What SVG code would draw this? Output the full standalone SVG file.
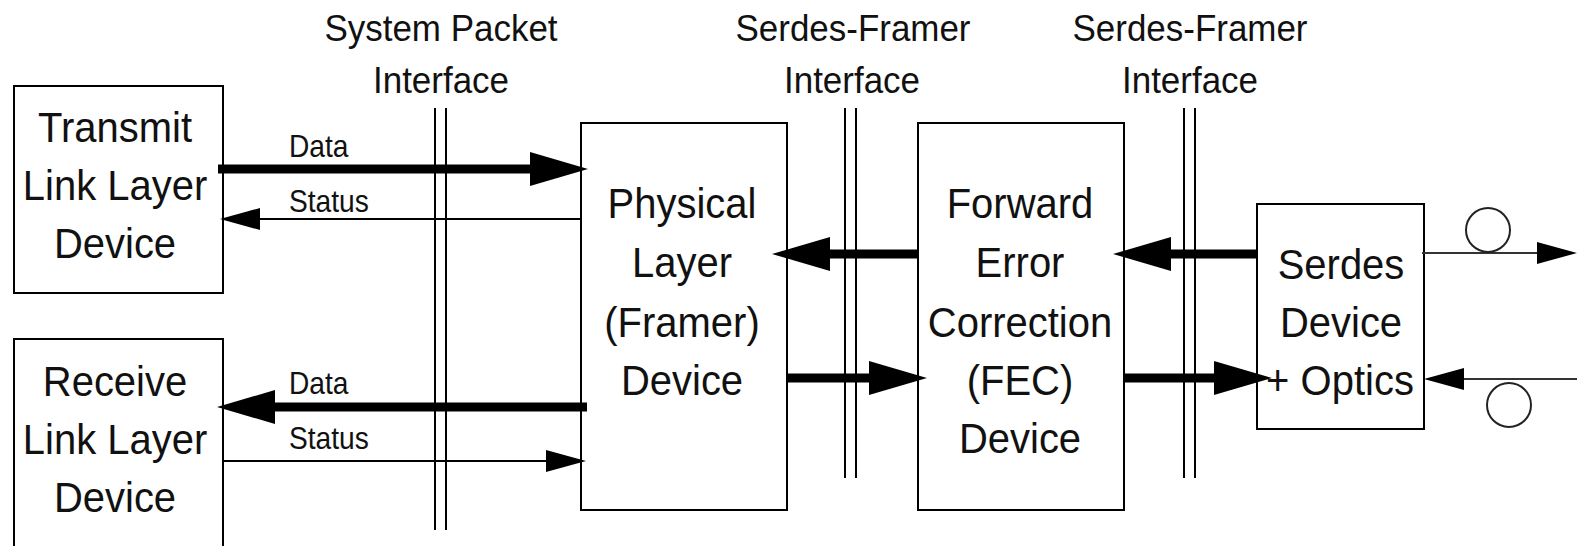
<svg xmlns="http://www.w3.org/2000/svg" width="1577" height="546" viewBox="0 0 1577 546">
<style>
.box{fill:#fff;stroke:#000;stroke-width:2}
.t{font-family:"Liberation Sans",Arial,sans-serif;font-size:43px;fill:#111;text-anchor:middle}
.lbl{font-family:"Liberation Sans",Arial,sans-serif;font-size:37px;fill:#111;text-anchor:middle}
.sm{font-family:"Liberation Sans",Arial,sans-serif;font-size:32px;fill:#111}
.thick{stroke:#000;stroke-width:9;fill:none}
.thin{stroke:#000;stroke-width:2;fill:none}
.thin2{stroke:#333;stroke-width:2;fill:none}
.bus{stroke:#000;stroke-width:2}
.fib{fill:none;stroke:#222;stroke-width:2}
</style>
<defs>
<marker id="big" markerUnits="userSpaceOnUse" markerWidth="58" markerHeight="36" refX="18" refY="18" orient="auto-start-reverse" viewBox="0 0 58 36">
<path d="M0,1 L58,18 L0,35 Z" fill="#000"/>
</marker>
<marker id="small" markerUnits="userSpaceOnUse" markerWidth="40" markerHeight="24" refX="10" refY="12" orient="auto-start-reverse" viewBox="0 0 40 24">
<path d="M0,1 L40,12 L0,23 Z" fill="#000"/>
</marker>
</defs>
<rect width="1577" height="546" fill="#fff"/>

<g id="interfaces">
<text class="lbl" transform="translate(441,41) scale(0.945,1)">System Packet</text>
<text class="lbl" transform="translate(441,93) scale(0.945,1)">Interface</text>
<line class="bus" x1="435" y1="108" x2="435" y2="530"/>
<line class="bus" x1="446" y1="108" x2="446" y2="530"/>
<text class="lbl" transform="translate(853,41) scale(0.945,1)">Serdes-Framer</text>
<text class="lbl" transform="translate(852,93) scale(0.945,1)">Interface</text>
<line class="bus" x1="845" y1="108" x2="845" y2="478"/>
<line class="bus" x1="856" y1="108" x2="856" y2="478"/>
<text class="lbl" transform="translate(1190,41) scale(0.945,1)">Serdes-Framer</text>
<text class="lbl" transform="translate(1190,93) scale(0.945,1)">Interface</text>
<line class="bus" x1="1184" y1="108" x2="1184" y2="478"/>
<line class="bus" x1="1195" y1="108" x2="1195" y2="478"/>
</g>

<g id="transmit">
<rect class="box" x="14" y="86" width="209" height="207"/>
<text class="t" transform="translate(115,142) scale(0.93,1)">Transmit</text>
<text class="t" transform="translate(115,200) scale(0.93,1)">Link Layer</text>
<text class="t" transform="translate(115,258) scale(0.93,1)">Device</text>
</g>

<g id="receive">
<rect class="box" x="14" y="339" width="209" height="220"/>
<text class="t" transform="translate(115,396) scale(0.93,1)">Receive</text>
<text class="t" transform="translate(115,454) scale(0.93,1)">Link Layer</text>
<text class="t" transform="translate(115,512) scale(0.93,1)">Device</text>
</g>

<g id="physical">
<rect class="box" x="581" y="123" width="206" height="387"/>
<text class="t" transform="translate(682,218) scale(0.93,1)">Physical</text>
<text class="t" transform="translate(682,277) scale(0.93,1)">Layer</text>
<text class="t" transform="translate(682,337) scale(0.93,1)">(Framer)</text>
<text class="t" transform="translate(682,395) scale(0.93,1)">Device</text>
</g>

<g id="fec">
<rect class="box" x="918" y="123" width="206" height="387"/>
<text class="t" transform="translate(1020,218) scale(0.93,1)">Forward</text>
<text class="t" transform="translate(1020,277) scale(0.93,1)">Error</text>
<text class="t" transform="translate(1020,337) scale(0.93,1)">Correction</text>
<text class="t" transform="translate(1020,395) scale(0.93,1)">(FEC)</text>
<text class="t" transform="translate(1020,453) scale(0.93,1)">Device</text>
</g>

<g id="serdes">
<rect class="box" x="1257" y="204" width="167" height="225"/>
<text class="t" transform="translate(1341,279) scale(0.93,1)">Serdes</text>
<text class="t" transform="translate(1341,337) scale(0.93,1)">Device</text>
<text class="t" transform="translate(1340,395) scale(0.93,1)">+ Optics</text>
</g>

<g id="connectors">
<line class="thick" x1="218" y1="169" x2="548" y2="169" marker-end="url(#big)"/>
<text class="sm" transform="translate(289,157) scale(0.88,1)">Data</text>
<line class="thin" x1="581" y1="219" x2="250" y2="219" marker-end="url(#small)"/>
<text class="sm" transform="translate(289,212) scale(0.88,1)">Status</text>
<line class="thick" x1="587" y1="407" x2="257" y2="407" marker-end="url(#big)"/>
<text class="sm" transform="translate(289,394) scale(0.88,1)">Data</text>
<line class="thin" x1="223" y1="461" x2="556" y2="461" marker-end="url(#small)"/>
<text class="sm" transform="translate(289,449) scale(0.88,1)">Status</text>
<line class="thick" x1="918" y1="254" x2="812" y2="254" marker-end="url(#big)"/>
<line class="thick" x1="787" y1="378" x2="887" y2="378" marker-end="url(#big)"/>
<line class="thick" x1="1257" y1="254" x2="1153" y2="254" marker-end="url(#big)"/>
<line class="thick" x1="1124" y1="378" x2="1232" y2="378" marker-end="url(#big)"/>
<line class="thin2" x1="1422" y1="253" x2="1547" y2="253" marker-end="url(#small)"/>
<circle class="fib" cx="1488" cy="230" r="22"/>
<line class="thin2" x1="1577" y1="379" x2="1454" y2="379" marker-end="url(#small)"/>
<circle class="fib" cx="1509" cy="405" r="22"/>
</g>
</svg>
